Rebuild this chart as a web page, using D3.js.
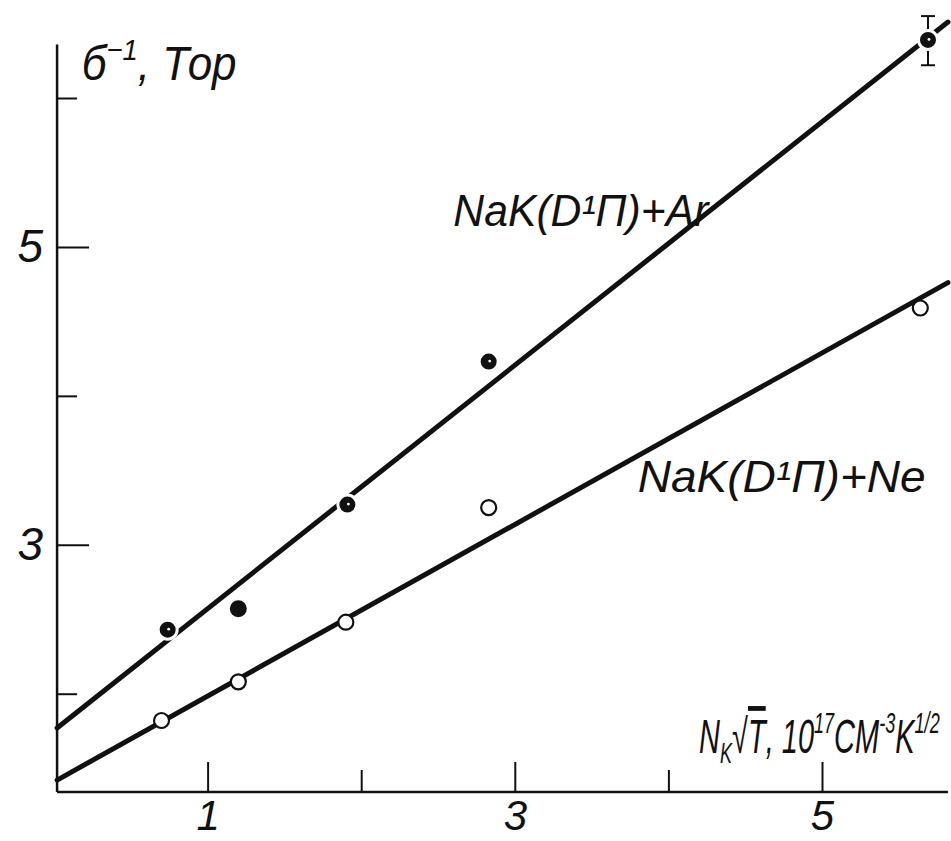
<!DOCTYPE html>
<html>
<head>
<meta charset="utf-8">
<script src="https://cdn.jsdelivr.net/npm/d3@7"></script>
<style>
  body { margin: 0; background: #fff; }
  text { font-family: "Liberation Sans", Arimo, sans-serif; font-style: italic; fill: #111; }
</style>
</head>
<body>
<script>
// Chart size
const width = 951;
const height = 841;

// Data
// NaK(D1П)+Ar : dotted markers and one solid marker
const arX = [0.74, 1.91, 2.83, 5.69];
const arY = [2.43, 3.27, 4.23, 6.39];
const arSolidX = [1.20];
const arSolidY = [2.57];
const arErr = [{ x: 5.69, lo: 6.22, hi: 6.55 }];
// NaK(D1П)+Ne : open circles
const neX = [0.70, 1.20, 1.90, 2.83, 5.64];
const neY = [1.82, 2.08, 2.48, 3.25, 4.59];
// fitted straight lines (end points)
const arFit = [[0.02, 1.77], [5.82, 6.51]];
const neFit = [[0.02, 1.42], [5.82, 4.76]];
// axes
const xMajor = [1, 3, 5];
const xMinor = [2, 4];
const yMajor = [3, 5];
const yMinor = [2, 4, 6];
const xExtent = [0.02, 5.82];
const yExtent = [1.34, 6.36];

const svg = d3.select('body').append('svg')
  .attr('width', width)
  .attr('height', height);

const x = d3.scaleLinear().domain([0, 5]).range([54, 822]);
const y = d3.scaleLinear().domain([1.34, 6]).range([792, 98]);

// axis lines
svg.append('line')
  .attr('x1', x(xExtent[0])).attr('x2', x(xExtent[1]))
  .attr('y1', y(yExtent[0])).attr('y2', y(yExtent[0]))
  .attr('stroke', '#111').attr('stroke-width', 2.5);
svg.append('line')
  .attr('x1', x(xExtent[0])).attr('x2', x(xExtent[0]))
  .attr('y1', y(yExtent[0])).attr('y2', y(yExtent[1]))
  .attr('stroke', '#111').attr('stroke-width', 2.5);

// ticks: odd values long + labelled, even values short
const styleAxis = (g, size) => {
  g.select('.domain').remove();
  g.selectAll('.tick line').attr('stroke', '#111').attr('stroke-width', 2);
  g.selectAll('.tick text').attr('fill', '#111').style('font-size', size + 'px');
};

svg.append('g')
  .attr('transform', `translate(0, ${y(yExtent[0])})`)
  .call(d3.axisBottom(x).tickValues(xMajor).tickSize(-30).tickPadding(8).tickFormat(d3.format('d')))
  .call(styleAxis, 42);
svg.append('g')
  .attr('transform', `translate(0, ${y(yExtent[0])})`)
  .call(d3.axisBottom(x).tickValues(xMinor).tickSize(-22).tickFormat(''))
  .call(styleAxis, 42);

svg.append('g')
  .attr('transform', `translate(${x(xExtent[0])}, 0)`)
  .call(d3.axisLeft(y).tickValues(yMajor).tickSize(-32).tickPadding(14).tickFormat(d3.format('d')))
  .call(styleAxis, 46);
svg.append('g')
  .attr('transform', `translate(${x(xExtent[0])}, 0)`)
  .call(d3.axisLeft(y).tickValues(yMinor).tickSize(-20).tickFormat(''))
  .call(styleAxis, 46);

// fit lines
const line = d3.line().x(d => x(d[0])).y(d => y(d[1]));
[arFit, neFit].forEach(f => {
  svg.append('path')
    .attr('d', line(f))
    .attr('fill', 'none')
    .attr('stroke', '#111')
    .attr('stroke-width', 5)
    .attr('stroke-linecap', 'round');
});

// error bar on the last Ar point
arErr.forEach(e => {
  const cx = x(e.x);
  svg.append('line').attr('x1', cx).attr('x2', cx).attr('y1', y(e.hi)).attr('y2', y(e.lo))
    .attr('stroke', '#111').attr('stroke-width', 2);
  [e.hi, e.lo].forEach(v => svg.append('line')
    .attr('x1', cx - 7).attr('x2', cx + 7).attr('y1', y(v)).attr('y2', y(v))
    .attr('stroke', '#111').attr('stroke-width', 2));
});

// Ne markers: open circles
svg.append('g').selectAll('circle')
  .data(d3.zip(neX, neY))
  .join('circle')
  .attr('cx', d => x(d[0])).attr('cy', d => y(d[1]))
  .attr('r', 7.5)
  .attr('fill', '#fff').attr('stroke', '#111').attr('stroke-width', 2.2);

// Ar markers: dark circles with a light speck
const arG = svg.append('g');
arG.selectAll('circle.ar')
  .data(d3.zip(arX, arY))
  .join('circle')
  .attr('class', 'ar')
  .attr('cx', d => x(d[0])).attr('cy', d => y(d[1]))
  .attr('r', 9.5)
  .attr('fill', '#111').attr('stroke', '#fff').attr('stroke-width', 3);
arG.selectAll('circle.speck')
  .data(d3.zip(arX, arY))
  .join('circle')
  .attr('class', 'speck')
  .attr('cx', d => x(d[0]) + 1).attr('cy', d => y(d[1]) - 0.5)
  .attr('r', 1.4)
  .attr('fill', '#fff');
arG.selectAll('circle.solid')
  .data(d3.zip(arSolidX, arSolidY))
  .join('circle')
  .attr('class', 'solid')
  .attr('cx', d => x(d[0])).attr('cy', d => y(d[1]))
  .attr('r', 8.5)
  .attr('fill', '#111');

// curve labels
svg.append('text')
  .attr('x', x(2.60)).attr('y', y(5.14))
  .attr('textLength', 255).attr('lengthAdjust', 'spacingAndGlyphs')
  .style('font-size', '44px')
  .text('NaK(D¹П)+Ar');
svg.append('text')
  .attr('x', x(3.80)).attr('y', y(3.355))
  .attr('textLength', 288).attr('lengthAdjust', 'spacingAndGlyphs')
  .style('font-size', '44px')
  .text('NaK(D¹П)+Ne');

// squeeze a multi-part title horizontally to a given width
function fitWidth(g, w) {
  const t = g.select('text');
  const len = t.node().getComputedTextLength();
  t.attr('transform', `scale(${w / len}, 1)`);
}

// y axis title
const ytG = svg.append('g').attr('transform', `translate(${x(0.18)}, ${y(6.12)})`);
const yt = ytG.append('text').style('font-size', '48px');
yt.append('tspan').text('б');
yt.append('tspan').attr('dy', -20).style('font-size', '30px').text('−1');
yt.append('tspan').attr('dy', 20).text(', Тор');
fitWidth(ytG, 155);

// x axis title
const xtG = svg.append('g').attr('transform', `translate(${x(4.20)}, ${y(1.60)})`);
const xt = xtG.append('text').style('font-size', '48px');
xt.append('tspan').text('N');
xt.append('tspan').attr('dy', 10).style('font-size', '30px').text('K');
xt.append('tspan').attr('dy', -10).text('√');
xt.append('tspan').style('text-decoration', 'overline').text('T');
xt.append('tspan').text(', 10');
xt.append('tspan').attr('dy', -20).style('font-size', '30px').text('17');
xt.append('tspan').attr('dy', 20).text('CM');
xt.append('tspan').attr('dy', -20).style('font-size', '30px').text('-3');
xt.append('tspan').attr('dy', 20).text('K');
xt.append('tspan').attr('dy', -20).style('font-size', '30px').text('1/2');
fitWidth(xtG, 238);
</script>
</body>
</html>
